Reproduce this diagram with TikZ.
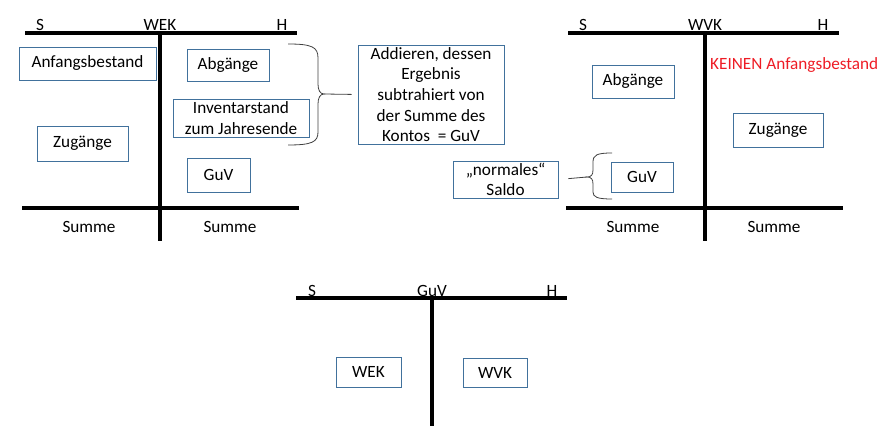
\documentclass[tikz,border=0pt]{standalone}
\usepackage{fontspec}
\setmainfont{Carlito}
\definecolor{boxblue}{HTML}{41719C}
\definecolor{kred}{HTML}{EE1C25}

\begin{document}
\begin{tikzpicture}[x=1pt,y=-1pt,
  konto/.style={line width=3.8pt},
  kbox/.style={draw=boxblue, line width=0.8pt, inner sep=0pt, align=center,
    font=\fontsize{17.2}{20.7}\selectfont},
  lbl/.style={anchor=base, inner sep=0pt, font=\fontsize{17.2}{20.7}\selectfont},
  klammer/.style={line width=0.8pt, black!75}]
  \useasboundingbox (0,0) rectangle (888,438);
  % WEK
  \draw[konto] (25,33) -- (297,33);
  \draw[konto] (160,33) -- (160,241);
  \draw[konto] (22,208) -- (299,208);
  \node[lbl] (wekS) at (40,31) {S};
  \node[lbl] (wekT) at (160,31) {WEK};
  \node[lbl] (wekH) at (282,31) {H};
  \node[lbl] (wekSumL) at (89,232.5) {Summe};
  \node[lbl] (wekSumR) at (230,232.5) {Summe};
  \node[kbox, minimum width=137pt, minimum height=33pt] (anfang) at (87.5,63.5) {Anfangsbestand};
  \node[kbox, minimum width=91pt, minimum height=35pt] (zugL) at (82.5,143.5) {Zug\"ange};
  \node[kbox, minimum width=82pt, minimum height=32pt] (abgL) at (228,65) {Abg\"ange};
  \node[kbox, minimum width=136pt, minimum height=38pt] (invent) at (241,118) {Inventarstand\\zum Jahresende};
  \node[kbox, minimum width=63pt, minimum height=34pt] (guvL) at (218.5,175) {GuV};
  % brace WEK
  \node[kbox, minimum width=146pt, minimum height=99pt] (addieren) at (431,94.5)
    {Addieren, dessen\\Ergebnis\\subtrahiert von\\der Summe des\\Kontos \ = GuV};
  \coordinate (tipL) at (324,94);
  \draw[klammer] (288,44) .. controls (312,44) and (318,47) .. (318,58) -- (318,84)
    .. controls (318,90) and (320,94) .. (tipL)
    .. controls (320,94) and (318,98) .. (318,104) -- (318,132)
    .. controls (318,142) and (312,145) .. (288,145);
  \draw[klammer, shorten >=6pt] (tipL) -- (addieren.west);
  % WVK
  \draw[konto] (568,33) -- (839,33);
  \draw[konto] (705,33) -- (705,241);
  \draw[konto] (566,208) -- (843,208);
  \node[lbl] (wvkS) at (583,31) {S};
  \node[lbl] (wvkT) at (705,31) {WVK};
  \node[lbl] (wvkH) at (823,31) {H};
  \node[lbl] (wvkSumL) at (633,232.5) {Summe};
  \node[lbl] (wvkSumR) at (774,232.5) {Summe};
  \node[kbox, minimum width=82pt, minimum height=33pt] (abgR) at (633,81.5) {Abg\"ange};
  \node[lbl, anchor=base west, text=kred] (kein) at (710,70) {KEINEN Anfangsbestand};
  \node[kbox, minimum width=90pt, minimum height=34pt] (zugR) at (778,130) {Zug\"ange};
  \node[kbox, minimum width=62pt, minimum height=30pt] (guvR) at (642,177) {GuV};
  % brace WVK
  \node[kbox, minimum width=105pt, minimum height=37pt] (saldo) at (505.5,179.5) {„normales“\\Saldo};
  \coordinate (tipR) at (587,177);
  \draw[klammer] (612,153) .. controls (597,153) and (593,155) .. (593,162) -- (593,170)
    .. controls (593,175) and (591,177) .. (tipR)
    .. controls (591,177) and (593,179) .. (593,184) -- (593,192)
    .. controls (593,197) and (597,199) .. (612,199);
  \draw[klammer, shorten >=10pt] (tipR) -- (saldo.east);
  % GuV
  \draw[konto] (296,298) -- (567,298);
  \draw[konto] (432,298) -- (432,426);
  \node[lbl] (guvS) at (312,296) {S};
  \node[lbl] (guvT) at (432,296) {GuV};
  \node[lbl] (guvH) at (552,296) {H};
  \node[kbox, minimum width=65pt, minimum height=30pt] (wekBox) at (368.5,372) {WEK};
  \node[kbox, minimum width=64pt, minimum height=29pt] (wvkBox) at (495,372.5) {WVK};
\end{tikzpicture}
\end{document}
